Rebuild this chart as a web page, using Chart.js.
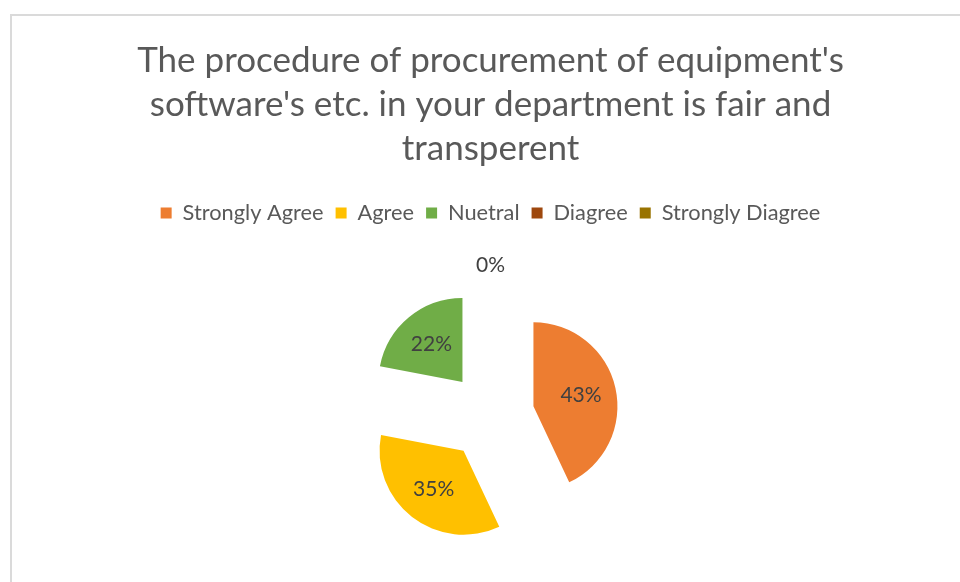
<!DOCTYPE html>
<html>
<head>
<meta charset="utf-8">
<script src="https://cdn.jsdelivr.net/npm/chart.js@4/dist/chart.umd.min.js"></script>
<style>
  html, body { margin: 0; padding: 0; background: #ffffff; overflow: hidden; }
  #wrap { position: relative; width: 960px; height: 582px; overflow: hidden; }
  #frame { position: absolute; left: 10px; top: 14px; width: 1000px; height: 620px; border: 2px solid #dadada; box-sizing: border-box; }
  #c { position: absolute; left: 0; top: 0; }
</style>
</head>
<body>
<div id="wrap">
  <div id="frame"></div>
  <canvas id="c" width="960" height="598"></canvas>
</div>
<script>
const titleLines = ["The procedure of procurement of equipment's", "software's etc. in your department is fair and", "transperent"];
const categories = ["Strongly Agree", "Agree", "Nuetral", "Diagree", "Strongly Diagree"];
const percentValues = [43, 35, 22, 0, 0];
const sliceColors = ["#ED7D31", "#FFC000", "#70AD47", "#9E480E", "#997300"];

const EXPLODE = 44;      // uniform explosion distance (px)
const PIE_RADIUS = 84;   // pie radius (px)
const FONT = "Lato, 'Open Sans', sans-serif";

function total() { return percentValues.reduce((a, b) => a + b, 0); }

// Explode every slice uniformly: translate each arc along its own mid-angle before the library draws it
const explodePlugin = {
  id: 'explode',
  beforeDatasetsDraw(chart) {
    const meta = chart.getDatasetMeta(0);
    meta.data.forEach(arc => {
      if (arc._exploded) return;
      const orig = arc.draw;
      arc.draw = function (ctx, area) {
        const mid = (this.startAngle + this.endAngle) / 2;
        ctx.save();
        ctx.translate(Math.cos(mid) * EXPLODE, Math.sin(mid) * EXPLODE);
        orig.call(this, ctx, area);
        ctx.restore();
      };
      arc._exploded = true;
    });
  }
};

const labelPlugin = {
  id: 'pctLabels',
  afterDatasetsDraw(chart) {
    const ctx = chart.ctx;
    const meta = chart.getDatasetMeta(0);
    ctx.save();
    ctx.font = "21px " + FONT;
    ctx.fillStyle = "#404040";
    ctx.textAlign = "center";
    ctx.textBaseline = "middle";
    meta.data.forEach((arc, i) => {
      const p = arc.getProps(['x', 'y', 'startAngle', 'endAngle', 'outerRadius'], true);
      const v = percentValues[i];
      if (v === 0 && i > 0 && percentValues[i - 1] === 0) return; // overlapping zero labels
      const mid = (p.startAngle + p.endAngle) / 2;
      const dist = v > 0 ? EXPLODE + p.outerRadius * 0.58 : EXPLODE + p.outerRadius + 23;
      const lx = p.x + Math.cos(mid) * dist;
      const ly = p.y + Math.sin(mid) * dist;
      const txt = Math.round(v / total() * 100) + "%";
      ctx.fillText(txt, lx, ly);
    });
    ctx.restore();
  }
};

new Chart(document.getElementById('c'), {
  type: 'pie',
  data: {
    labels: categories,
    datasets: [{
      data: percentValues,
      backgroundColor: sliceColors,
      borderWidth: 0,
      radius: PIE_RADIUS,
      offset: 0,
      hoverOffset: 0
    }]
  },
  options: {
    responsive: false,
    animation: false,
    events: [],
    layout: { padding: { left: 21, right: 0, top: 0, bottom: 0 } },
    plugins: {
      title: {
        display: true,
        text: titleLines,
        color: "#595959",
        font: { family: FONT, size: 35, weight: 'normal', lineHeight: 44 / 35 },
        padding: { top: 39, bottom: 19 }
      },
      legend: {
        display: true,
        position: 'top',
        labels: {
          color: "#595959",
          font: { family: FONT, size: 21.8 },
          boxWidth: 11,
          boxHeight: 11,
          padding: 12
        }
      },
      tooltip: { enabled: false }
    }
  },
  plugins: [explodePlugin, labelPlugin]
});
</script>
</body>
</html>
